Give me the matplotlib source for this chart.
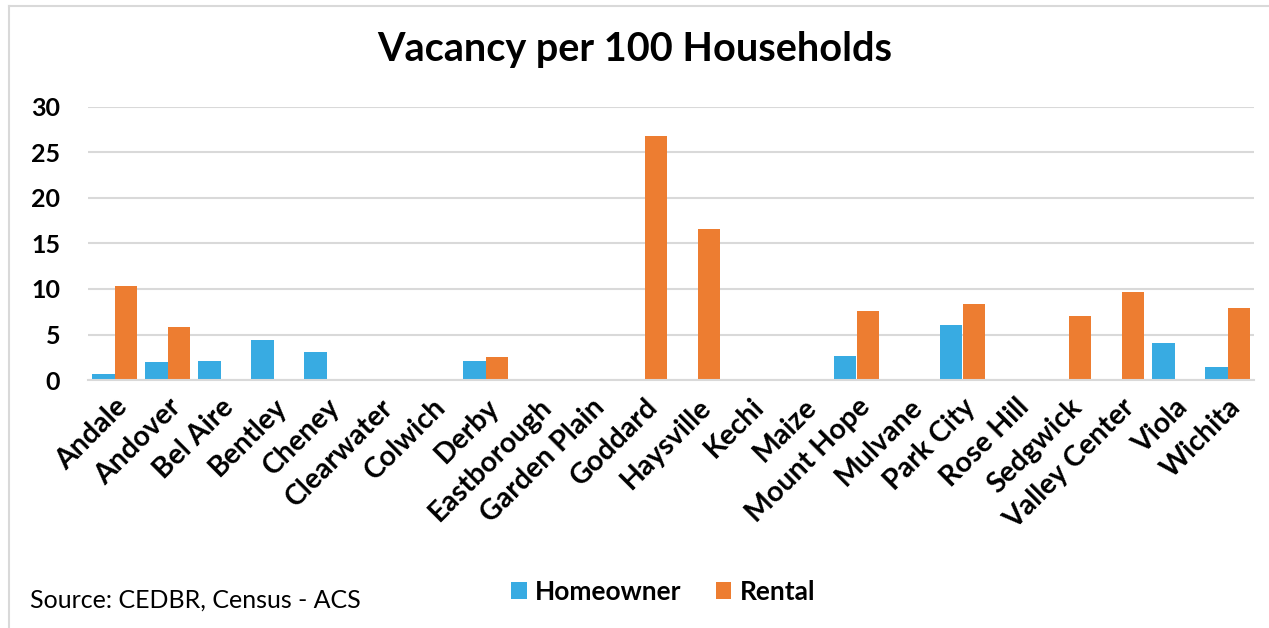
import matplotlib.pyplot as plt
from matplotlib.lines import Line2D
import numpy as np

cities = ['Andale', 'Andover', 'Bel Aire', 'Bentley', 'Cheney', 'Clearwater',
          'Colwich', 'Derby', 'Eastborough', 'Garden Plain', 'Goddard',
          'Haysville', 'Kechi', 'Maize', 'Mount Hope', 'Mulvane', 'Park City',
          'Rose Hill', 'Sedgwick', 'Valley Center', 'Viola', 'Wichita']
homeowner = [0.7, 2.0, 2.1, 4.4, 3.1, 0, 0, 2.1, 0, 0, 0,
             0, 0, 0, 2.6, 0, 6.0, 0, 0, 0, 4.1, 1.4]
rental = [10.35, 5.8, 0, 0, 0, 0, 0, 2.5, 0, 0, 26.8,
          16.6, 0, 0, 7.6, 0, 8.4, 0, 7.0, 9.7, 0, 7.9]

plt.rcParams['font.family'] = ['Lato', 'DejaVu Sans']

W, H = 1269, 628
fig = plt.figure(figsize=(W / 100, H / 100), dpi=100)
ax = fig.add_axes([88 / W, 1 - 380 / H, (1254 - 88) / W, (380 - 107) / H])

x = np.arange(len(cities))
w = 0.42
ax.bar(x - w / 2, homeowner, w, color='#38ABE2', label='Homeowner')
ax.bar(x + w / 2, rental, w, color='#ED7D31', label='Rental')

ax.set_xlim(-0.5, len(cities) - 0.5)
ax.set_ylim(0, 30)
ax.set_yticks(range(0, 31, 5))
ax.yaxis.grid(True, color='#D9D9D9', linewidth=1.5)
ax.set_axisbelow(True)
for s in ['top', 'right', 'left']:
    ax.spines[s].set_visible(False)
ax.spines['bottom'].set_color('#D9D9D9')
ax.spines['bottom'].set_linewidth(1.5)
ax.tick_params(length=0)
ax.set_xticks(x)
ax.set_xticklabels(cities, rotation=45, ha='right', rotation_mode='anchor',
                   fontsize=20.5, fontweight='bold')
ax.tick_params(axis='x', pad=10)
for lab in ax.get_yticklabels():
    lab.set_fontsize(18)
    lab.set_fontweight('bold')
ax.tick_params(axis='y', pad=20)

fig.text(0.5, 1 - 50 / H, 'Vacancy per 100 Households', ha='center', va='center',
         fontsize=28.5, fontweight='bold')
fig.text(30 / W, 1 - 600 / H, 'Source: CEDBR, Census - ACS', ha='left', va='center',
         fontsize=18)
fig.legend(loc='center', bbox_to_anchor=(663 / W, 1 - 592 / H), ncol=2, frameon=False,
           prop={'size': 19, 'weight': 'bold'}, handlelength=0.6, handleheight=0.6,
           handletextpad=0.3, columnspacing=1.3)

# frame lines: top and left only
fig.add_artist(Line2D([9 / W, 1], [1 - 6 / H, 1 - 6 / H], transform=fig.transFigure,
                      color='#D9D9D9', linewidth=1.5))
fig.add_artist(Line2D([9 / W, 9 / W], [0, 1 - 6 / H], transform=fig.transFigure,
                      color='#D9D9D9', linewidth=1.5))

fig.savefig('out.png', dpi=100)
